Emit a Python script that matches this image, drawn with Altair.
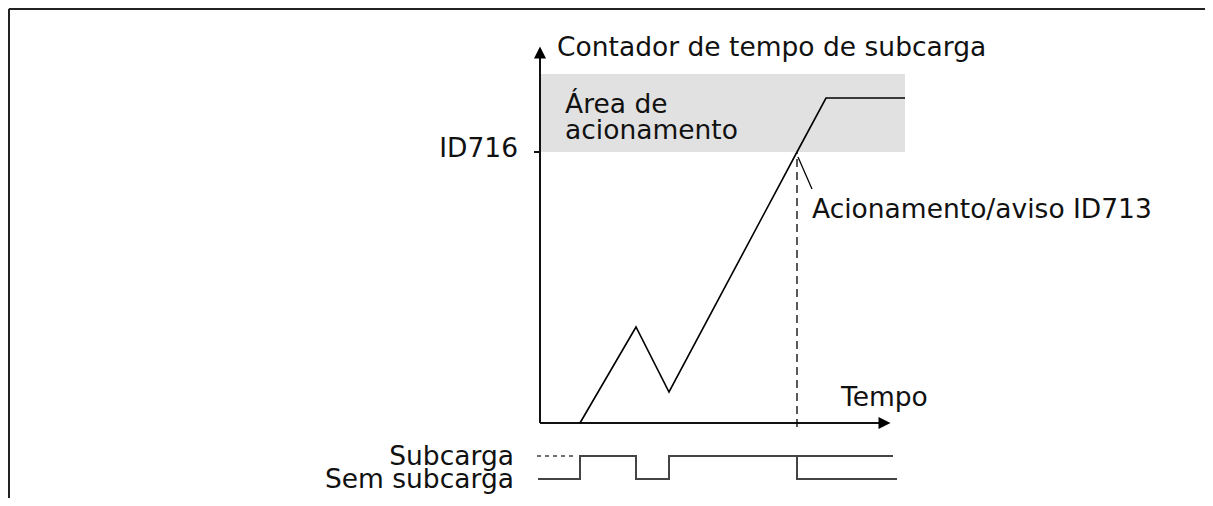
import altair as alt
import pandas as pd

# Diagram units: origin at the axis crossing, 1 unit ~ 1 px
X_DOMAIN = [-532, 665]
Y_DOMAIN = [-75, 415]

# Counter (sub-load time counter) curve
counter_t = [40, 96, 129, 257, 286, 365]
counter_v = [0, 96, 31, 271, 325, 325]

# Trip threshold ID716 and trip area
threshold = 271
trip_area_top = 349
trip_area_t = [1, 365]

# Trip moment
trip_t = 257

# Underload state signal (high = Subcarga, low = Sem subcarga)
sig_high, sig_low = -33, -56
signal_t = [-2, 40, 40, 96, 96, 129, 129, 257, 257, 357]
signal_v = [sig_low, sig_low, sig_high, sig_high, sig_low, sig_low, sig_high, sig_high, sig_low, sig_low]
signal_high_t = [257, 353]
signal_dash_t = [-3, 33]

# Axes extents
y_axis_top = 365
x_axis_end = 339

xs = alt.Scale(domain=X_DOMAIN, nice=False, zero=False)
ys = alt.Scale(domain=Y_DOMAIN, nice=False, zero=False)
X = lambda f: alt.X(f, type="quantitative", scale=xs, axis=None)
Y = lambda f: alt.Y(f, type="quantitative", scale=ys, axis=None)

FONT = "DejaVu Sans"
FS = 26.5

# Frame
frame = pd.DataFrame({"x": [-531, -531], "y": [414, 414], "x2": [665, -531], "y2": [414, -75]})
frame_l = alt.Chart(frame).mark_rule(color="#222", strokeWidth=2).encode(
    x=X("x"), y=Y("y"), x2="x2", y2="y2")

# Trip area
area = pd.DataFrame({"x": [trip_area_t[0]], "x2": [trip_area_t[1]], "y": [threshold], "y2": [trip_area_top]})
area_l = alt.Chart(area).mark_rect(color="#e1e1e1").encode(x=X("x"), x2="x2", y=Y("y"), y2="y2")

# Axes lines + threshold tick
axes = pd.DataFrame({
    "x": [0, 0, -6], "y": [0, 0, threshold],
    "x2": [0, x_axis_end, 0], "y2": [y_axis_top, 0, threshold]})
axes_l = alt.Chart(axes).mark_rule(color="#111", strokeWidth=2).encode(
    x=X("x"), y=Y("y"), x2="x2", y2="y2")

arrow_up = alt.Chart(pd.DataFrame({"x": [0], "y": [370.5]})).mark_point(
    shape="M-1,1L0,-1L1,1Z", filled=True, size=144, color="#000", opacity=1).encode(x=X("x"), y=Y("y"))
arrow_right = alt.Chart(pd.DataFrame({"x": [344.5], "y": [0]})).mark_point(
    shape="M-1,-1L1,0L-1,1Z", filled=True, size=144, color="#000", opacity=1).encode(x=X("x"), y=Y("y"))

# Counter curve
curve = pd.DataFrame({"t": counter_t, "v": counter_v, "o": range(len(counter_t))})
curve_l = alt.Chart(curve).mark_line(color="#000", strokeWidth=1.6).encode(
    x=X("t"), y=Y("v"), order="o:Q")

# Dashed trip marker and leader
dash = pd.DataFrame({"x": [trip_t], "y": [-4], "y2": [threshold]})
dash_l = alt.Chart(dash).mark_rule(color="#000", strokeWidth=1.3, strokeDash=[8, 5]).encode(
    x=X("x"), y=Y("y"), y2="y2")
leader = pd.DataFrame({"x": [258], "y": [266], "x2": [272], "y2": [234]})
leader_l = alt.Chart(leader).mark_rule(color="#000", strokeWidth=1.3).encode(
    x=X("x"), y=Y("y"), x2="x2", y2="y2")

# Signal
sig = pd.DataFrame({"t": signal_t, "v": signal_v, "o": range(len(signal_t))})
sig_l = alt.Chart(sig).mark_line(color="#444", strokeWidth=2).encode(x=X("t"), y=Y("v"), order="o:Q")
sigh = pd.DataFrame({"t": signal_high_t, "v": [sig_high, sig_high]})
sigh_l = alt.Chart(sigh).mark_line(color="#444", strokeWidth=2).encode(x=X("t"), y=Y("v"))
sigd = pd.DataFrame({"t": signal_dash_t, "v": [sig_high, sig_high]})
sigd_l = alt.Chart(sigd).mark_line(color="#444", strokeWidth=1.5, strokeDash=[4, 4]).encode(x=X("t"), y=Y("v"))

# Texts
left_texts = pd.DataFrame({
    "x": [17, 25, 25, 272, 301],
    "y": [367, 310, 284, 205, 17],
    "label": ["Contador de tempo de subcarga", "Área de", "acionamento",
              "Acionamento/aviso ID713", "Tempo"]})
left_l = alt.Chart(left_texts).mark_text(
    align="left", baseline="alphabetic", font=FONT, fontSize=FS, color="#111").encode(
    x=X("x"), y=Y("y"), text="label:N")

right_texts = pd.DataFrame({
    "x": [-22, -26, -26],
    "y": [266, -42, -65],
    "label": ["ID716", "Subcarga", "Sem subcarga"]})
right_l = alt.Chart(right_texts).mark_text(
    align="right", baseline="alphabetic", font=FONT, fontSize=FS, color="#111").encode(
    x=X("x"), y=Y("y"), text="label:N")

chart = alt.layer(
    frame_l, area_l, axes_l, arrow_up, arrow_right, curve_l, dash_l, leader_l,
    sig_l, sigh_l, sigd_l, left_l, right_l
).properties(
    width=1197, height=490, padding=0, autosize=alt.AutoSizeParams(type="none")
).configure_view(stroke=None).configure(background="white")

chart.save("out.html", embed_options={"renderer": "svg", "actions": False})
